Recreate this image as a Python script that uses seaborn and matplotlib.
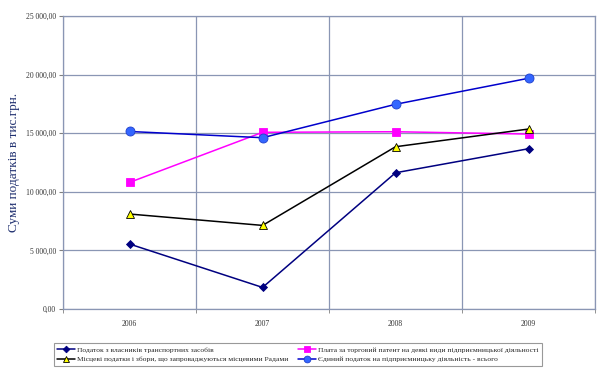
import matplotlib
matplotlib.use("Agg")
import matplotlib.pyplot as plt
import numpy as np
import pandas as pd
import seaborn as sns
from matplotlib.ticker import FuncFormatter, FixedLocator

# data (тис. грн.)
years = ["2006", "2007", "2008", "2009"]
transport_tax = [5550, 1850, 11630, 13680]
trade_patent = [10810, 15080, 15130, 14930]
local_fees = [8110, 7140, 13850, 15360]
single_tax = [15150, 14620, 17470, 19690]

labels = [
    "Податок з власників транспортних засобів",
    "Плата за торговий патент на деякі види підприємницької діяльності",
    "Місцеві податки і збори, що запроваджуються місцевими Радами",
    "Єдиний податок на підприємницьку діяльність - всього",
]

sns.set_style("white")
plt.rcParams["font.family"] = ["Liberation Serif", "DejaVu Serif"]

fig = plt.figure(figsize=(6.01, 3.68), dpi=100)
ax = fig.add_axes([0.105, 0.160, 0.885, 0.7965])

x = np.arange(len(years))
styles = [
    (transport_tax, "#000080", "D", "#000080", "#000080", 4.5),
    (trade_patent, "#FF00FF", "s", "#FF00FF", "#FF00FF", 5.5),
    (local_fees, "#000000", "^", "#FFFF00", "#000000", 6),
    (single_tax, "#0000CC", "o", "#3366FF", "#1F3FCC", 6.5),
]
handles = []
for (vals, lc, mk, mfc, mec, ms), lab in zip(styles, labels):
    sns.lineplot(x=x, y=vals, ax=ax, color=lc, marker=mk, markersize=ms,
                 markerfacecolor=mfc, markeredgecolor=mec, markeredgewidth=0.6,
                 linewidth=1.1, label=lab, legend=False)
    handles.append(ax.lines[-1])

ax.set_xlim(-0.5, len(years) - 0.5)
ax.set_ylim(0, 25000)
ax.set_yticks(np.arange(0, 25001, 5000))
ax.yaxis.set_major_formatter(FuncFormatter(
    lambda v, p: f"{v:,.2f}".replace(",", " ").replace(".", ",")))
ax.set_xticks(x)
ax.set_xticklabels(years)
ax.xaxis.set_minor_locator(FixedLocator(np.arange(-0.5, len(years), 1.0)))

grid_c = "#8A96B4"
ax.grid(False)
ax.yaxis.grid(True, color=grid_c, linewidth=0.9)
ax.xaxis.grid(True, which="minor", color=grid_c, linewidth=0.9)
for s in ax.spines.values():
    s.set_color(grid_c)
    s.set_linewidth(0.9)

ax.tick_params(axis="y", which="major", length=3, color="#808080", labelsize=5.5,
               labelcolor="#333333", left=True, pad=2)
ax.tick_params(axis="x", which="major", length=0, labelsize=5.5, labelcolor="#333333", pad=8)
ax.tick_params(axis="x", which="minor", length=3, color="#808080", bottom=True)

ax.set_ylabel("Суми податків в тис.грн.", fontsize=9.5, color="#1F2F6F", labelpad=4)

order = [0, 2, 1, 3]
leg = fig.legend([handles[i] for i in order], [labels[i] for i in order],
                 ncol=2, loc="lower left", bbox_to_anchor=(0.083, -0.004),
                 fontsize=5.4, frameon=True, fancybox=False, edgecolor="#808080",
                 handlelength=2.4, handletextpad=0.3, columnspacing=1.2,
                 borderpad=0.45, labelspacing=0.45, markerscale=0.75)
leg.get_frame().set_linewidth(0.8)

fig.savefig("out.png", dpi=100)
